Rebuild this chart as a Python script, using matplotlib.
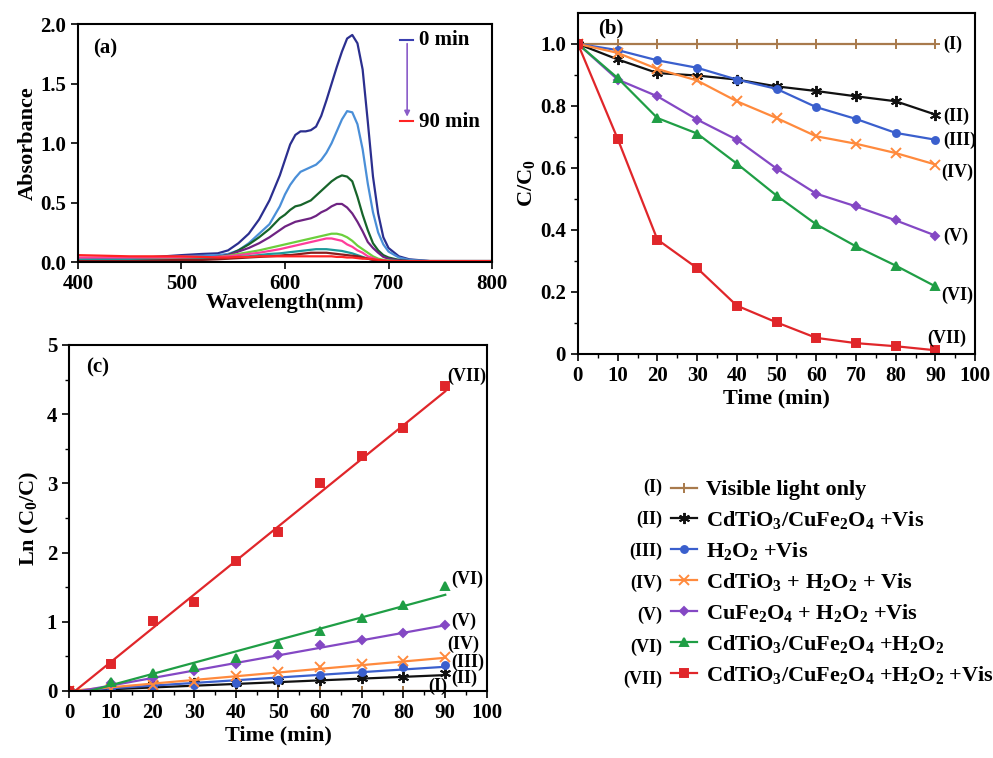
import numpy as np
import matplotlib
matplotlib.use("Agg")
import matplotlib.pyplot as plt

plt.rcParams['font.family'] = ['Liberation Serif', 'DejaVu Serif']
plt.rcParams['font.weight'] = 'bold'
plt.rcParams['axes.labelweight'] = 'bold'
plt.rcParams['mathtext.fontset'] = 'custom'
plt.rcParams['mathtext.rm'] = 'Liberation Serif:bold'
plt.rcParams['mathtext.it'] = 'Liberation Serif:bold'
plt.rcParams['mathtext.bf'] = 'Liberation Serif:bold'

# (a) UV-vis spectra, 0 min -> 90 min
wavelength = [400, 450, 500, 520, 535, 545, 555, 565, 575, 585, 595, 600, 605, 610, 615, 620, 625, 630,
              635, 640, 645, 650, 655, 660, 665, 670, 675, 680, 685, 690, 695, 700, 710, 720, 740, 800]
abs_navy = [0.02, 0.03, 0.06, 0.07, 0.075, 0.10, 0.16, 0.24, 0.36, 0.52, 0.73, 0.86, 0.99, 1.07, 1.10, 1.10, 1.11, 1.14,
            1.23, 1.36, 1.50, 1.64, 1.77, 1.88, 1.91, 1.84, 1.62, 1.18, 0.72, 0.41, 0.21, 0.12, 0.05, 0.025, 0.01, 0.01]
abs_lblue = [0.02, 0.03, 0.05, 0.055, 0.06, 0.07, 0.10, 0.16, 0.24, 0.32, 0.47, 0.57, 0.65, 0.71, 0.76, 0.78, 0.80, 0.82,
             0.86, 0.92, 1.00, 1.10, 1.20, 1.27, 1.26, 1.16, 0.95, 0.66, 0.42, 0.25, 0.15, 0.09, 0.04, 0.02, 0.01, 0.01]
abs_dgreen = [0.02, 0.02, 0.03, 0.04, 0.045, 0.06, 0.10, 0.15, 0.21, 0.28, 0.37, 0.40, 0.44, 0.47, 0.48, 0.50, 0.52, 0.56,
              0.60, 0.64, 0.68, 0.71, 0.73, 0.72, 0.68, 0.55, 0.40, 0.27, 0.16, 0.10, 0.06, 0.04, 0.02, 0.01, 0.01, 0.01]
abs_purple = [0.02, 0.02, 0.03, 0.035, 0.045, 0.06, 0.09, 0.12, 0.16, 0.21, 0.27, 0.30, 0.32, 0.34, 0.35, 0.36, 0.37, 0.39,
              0.42, 0.44, 0.47, 0.49, 0.49, 0.46, 0.41, 0.34, 0.26, 0.17, 0.12, 0.08, 0.045, 0.03, 0.015, 0.01, 0.01, 0.01]
abs_lgreen = [0.015, 0.02, 0.03, 0.035, 0.045, 0.055, 0.07, 0.085, 0.10, 0.12, 0.14, 0.15, 0.16, 0.17, 0.18, 0.19, 0.20, 0.21,
              0.22, 0.23, 0.24, 0.24, 0.23, 0.21, 0.18, 0.14, 0.11, 0.08, 0.05, 0.03, 0.02, 0.015, 0.01, 0.01, 0.01, 0.01]
abs_pink = [0.04, 0.04, 0.04, 0.04, 0.045, 0.05, 0.06, 0.07, 0.08, 0.095, 0.11, 0.12, 0.13, 0.14, 0.15, 0.16, 0.17, 0.18,
            0.19, 0.20, 0.20, 0.19, 0.18, 0.15, 0.13, 0.10, 0.08, 0.05, 0.035, 0.02, 0.015, 0.01, 0.01, 0.01, 0.01, 0.01]
abs_teal = [0.02, 0.02, 0.02, 0.025, 0.03, 0.035, 0.045, 0.05, 0.06, 0.07, 0.075, 0.08, 0.085, 0.09, 0.095, 0.10, 0.105, 0.11,
            0.11, 0.11, 0.105, 0.10, 0.095, 0.085, 0.075, 0.06, 0.045, 0.03, 0.02, 0.015, 0.01, 0.01, 0.01, 0.01, 0.01, 0.01]
abs_brown = [0.01, 0.01, 0.02, 0.02, 0.025, 0.03, 0.035, 0.04, 0.045, 0.05, 0.055, 0.06, 0.06, 0.065, 0.07, 0.075, 0.08, 0.08,
             0.08, 0.08, 0.075, 0.07, 0.065, 0.06, 0.055, 0.05, 0.04, 0.03, 0.02, 0.015, 0.01, 0.005, 0.0, 0.0, 0.0, 0.0]
abs_red = [0.06, 0.05, 0.05, 0.045, 0.04, 0.04, 0.045, 0.045, 0.05, 0.05, 0.05, 0.05, 0.05, 0.05, 0.05, 0.05, 0.05, 0.05,
           0.05, 0.05, 0.05, 0.045, 0.045, 0.04, 0.04, 0.035, 0.03, 0.03, 0.025, 0.02, 0.015, 0.01, 0.01, 0.01, 0.01, 0.01]
spectra = [abs_navy, abs_lblue, abs_dgreen, abs_purple, abs_lgreen, abs_pink, abs_teal, abs_brown, abs_red]
spec_colors = ['#2b2f8f', '#4a8fd8', '#17642a', '#6e2382', '#6ccf3c', '#ff3d9a', '#1c9a9a', '#8a1c1c', '#ff2424']

# (b) C/C0 vs time
time = [0, 10, 20, 30, 40, 50, 60, 70, 80, 90]
cc_I = [1.0, 1.0, 1.0, 1.0, 1.0, 1.0, 1.0, 1.0, 1.0, 1.0]
cc_II = [1.0, 0.950, 0.906, 0.898, 0.885, 0.863, 0.848, 0.831, 0.815, 0.772]
cc_III = [1.0, 0.980, 0.947, 0.923, 0.885, 0.855, 0.796, 0.758, 0.713, 0.691]
cc_IV = [1.0, 0.971, 0.919, 0.882, 0.815, 0.761, 0.702, 0.678, 0.648, 0.611]
cc_V = [1.0, 0.885, 0.831, 0.756, 0.691, 0.598, 0.517, 0.476, 0.431, 0.382]
cc_VI = [1.0, 0.890, 0.761, 0.711, 0.614, 0.511, 0.418, 0.347, 0.285, 0.218]
cc_VII = [1.0, 0.694, 0.369, 0.277, 0.156, 0.102, 0.052, 0.035, 0.025, 0.012]

# (c) ln(C0/C) vs time, points and fitted lines (values at t=0 and t=90)
ln_I = [0, 0, 0, 0, 0, 0, 0, 0, 0, 0]
ln_II = [0, 0.05, 0.10, 0.11, 0.12, 0.15, 0.165, 0.185, 0.205, 0.26]
ln_III = [0, 0.02, 0.055, 0.08, 0.12, 0.16, 0.23, 0.28, 0.34, 0.37]
ln_IV = [0, 0.03, 0.08, 0.13, 0.21, 0.27, 0.35, 0.385, 0.43, 0.49]
ln_V = [0, 0.12, 0.19, 0.29, 0.385, 0.515, 0.66, 0.74, 0.84, 0.96]
ln_VI = [0, 0.125, 0.265, 0.34, 0.48, 0.68, 0.87, 1.05, 1.24, 1.51]
ln_VII = [0, 0.385, 1.01, 1.29, 1.88, 2.30, 3.00, 3.40, 3.80, 4.40]
fit_t = [0, 90]
fit_I = [0, 0]
fit_II = [0, 0.23]
fit_III = [0, 0.35]
fit_IV = [0, 0.48]
fit_V = [-0.03, 0.95]
fit_VI = [-0.08, 1.39]
fit_VII = [-0.07, 4.33]

numerals = ['(I)', '(II)', '(III)', '(IV)', '(V)', '(VI)', '(VII)']
labels = ['Visible light only',
          r'CdTiO$_3$/CuFe$_2$O$_4$ +Vis',
          r'H$_2$O$_2$ +Vis',
          r'CdTiO$_3$ + H$_2$O$_2$ + Vis',
          r'CuFe$_2$O$_4$ + H$_2$O$_2$ +Vis',
          r'CdTiO$_3$/CuFe$_2$O$_4$ +H$_2$O$_2$',
          r'CdTiO$_3$/CuFe$_2$O$_4$ +H$_2$O$_2$ +Vis']
colors = ['#a87a4c', '#111111', '#3a5fcd', '#ff8a3d', '#8448c4', '#1f9e45', '#e0262a']
markers = ['+', (6, 2, 0), 'o', 'x', 'D', '^', 's']
msizes = [7, 8, 5, 7, 4, 6, 6]
cc_all = [cc_I, cc_II, cc_III, cc_IV, cc_V, cc_VI, cc_VII]
ln_all = [ln_I, ln_II, ln_III, ln_IV, ln_V, ln_VI, ln_VII]
fit_all = [fit_I, fit_II, fit_III, fit_IV, fit_V, fit_VI, fit_VII]

fig = plt.figure(figsize=(9.93, 7.58), dpi=100)
tick_fs = 15
lab_fs = 16

def style(ax):
    ax.tick_params(direction='out', labelsize=tick_fs, width=1.2, length=5)
    ax.tick_params(which='minor', direction='out', width=1.0, length=3)
    for s in ax.spines.values():
        s.set_linewidth(1.5)

# Panel (a)
ax_a = fig.add_axes([0.0785, 0.654, 0.417, 0.314])
for y, c in zip(spectra, spec_colors):
    ax_a.plot(wavelength, y, color=c, lw=1.6)
ax_a.set_xlim(400, 800)
ax_a.set_ylim(0, 2.0)
ax_a.set_xticks([400, 500, 600, 700, 800])
ax_a.set_yticks([0.0, 0.5, 1.0, 1.5, 2.0])
ax_a.set_yticklabels(['0.0', '0.5', '1.0', '1.5', '2.0'])
ax_a.set_xlabel('Wavelength(nm)', fontsize=lab_fs, labelpad=-1)
ax_a.set_ylabel('Absorbance', fontsize=lab_fs, labelpad=2)
ax_a.text(415, 1.8, '(a)', fontsize=15, va='center')
ax_a.plot([711, 724], [1.87, 1.87], color='#3a3fb0', lw=1.5)
ax_a.plot([711, 724], [1.19, 1.19], color='#ff2424', lw=1.5)
ax_a.annotate('', xy=(718, 1.20), xytext=(718, 1.86),
              arrowprops=dict(arrowstyle='-|>', color='#8a5cc8', lw=1.2, mutation_scale=8))
ax_a.text(729, 1.87, '0 min', fontsize=15, va='center')
ax_a.text(729, 1.18, '90 min', fontsize=15, va='center')
style(ax_a)

# Panel (b)
ax_b = fig.add_axes([0.582, 0.533, 0.400, 0.450])
handles = []
for y, c, m, ms in zip(cc_all, colors, markers, msizes):
    h, = ax_b.plot(time, y, color=c, lw=1.6, marker=m, ms=ms, mew=1.4)
    handles.append(h)
ax_b.set_xlim(0, 100)
ax_b.set_ylim(0, 1.1)
ax_b.set_xticks(range(0, 101, 10))
ax_b.set_xticks(range(5, 100, 10), minor=True)
ax_b.set_yticks([0, 0.2, 0.4, 0.6, 0.8, 1.0])
ax_b.set_yticklabels(['0', '0.2', '0.4', '0.6', '0.8', '1.0'])
ax_b.set_yticks([0.1, 0.3, 0.5, 0.7, 0.9], minor=True)
ax_b.set_xlabel('Time (min)', fontsize=lab_fs, labelpad=2)
ax_b.set_ylabel(r'C/C$_0$', fontsize=lab_fs, labelpad=2)
ax_b.text(5, 1.05, '(b)', fontsize=15, va='center')
b_lab_y = [1.0, 0.765, 0.69, 0.585, 0.38, 0.19, 0.05]
b_lab_x = [92, 92, 92, 91.5, 92, 91.5, 88]
for x, y, n in zip(b_lab_x, b_lab_y, numerals):
    ax_b.text(x, y, n, fontsize=13, va='center', clip_on=False)
style(ax_b)

# Panel (c)
ax_c = fig.add_axes([0.0695, 0.0884, 0.421, 0.4565])
for y, f, c, m, ms in zip(ln_all, fit_all, colors, markers, msizes):
    ax_c.plot(time, y, ls='none', color=c, marker=m, ms=ms, mew=1.4)
    ax_c.plot(fit_t, f, color=c, lw=1.6)
ax_c.set_xlim(0, 100)
ax_c.set_ylim(0, 5)
ax_c.set_xticks(range(0, 101, 10))
ax_c.set_xticks(range(5, 100, 10), minor=True)
ax_c.set_yticks([0, 1, 2, 3, 4, 5])
ax_c.set_yticks([0.5, 1.5, 2.5, 3.5, 4.5], minor=True)
ax_c.set_xlabel('Time (min)', fontsize=lab_fs, labelpad=2)
ax_c.set_ylabel(r'Ln (C$_0$/C)', fontsize=lab_fs, labelpad=4)
ax_c.text(4, 4.68, '(c)', fontsize=15, va='center')
c_lab_x = [86, 91.5, 91.5, 90.5, 91.5, 91.5, 90.5]
c_lab_y = [0.06, 0.19, 0.42, 0.67, 1.0, 1.62, 4.55]
for x, y, n in zip(c_lab_x, c_lab_y, numerals):
    ax_c.text(x, y, n, fontsize=13, va='center', clip_on=False)
style(ax_c)

# Legend
leg = fig.legend(handles, labels, loc='upper left', bbox_to_anchor=(0.676, 0.367),
                 frameon=False, fontsize=16, handlelength=1.15, handletextpad=0.4,
                 labelspacing=0.40, borderpad=0, borderaxespad=0)
leg_y = [487, 519, 551, 583, 615, 647, 679]
for y, n in zip(leg_y, numerals):
    fig.text(0.667, 1 - y / 758, n, fontsize=13, ha='right', va='center')

fig.savefig('out.png', dpi=100)
